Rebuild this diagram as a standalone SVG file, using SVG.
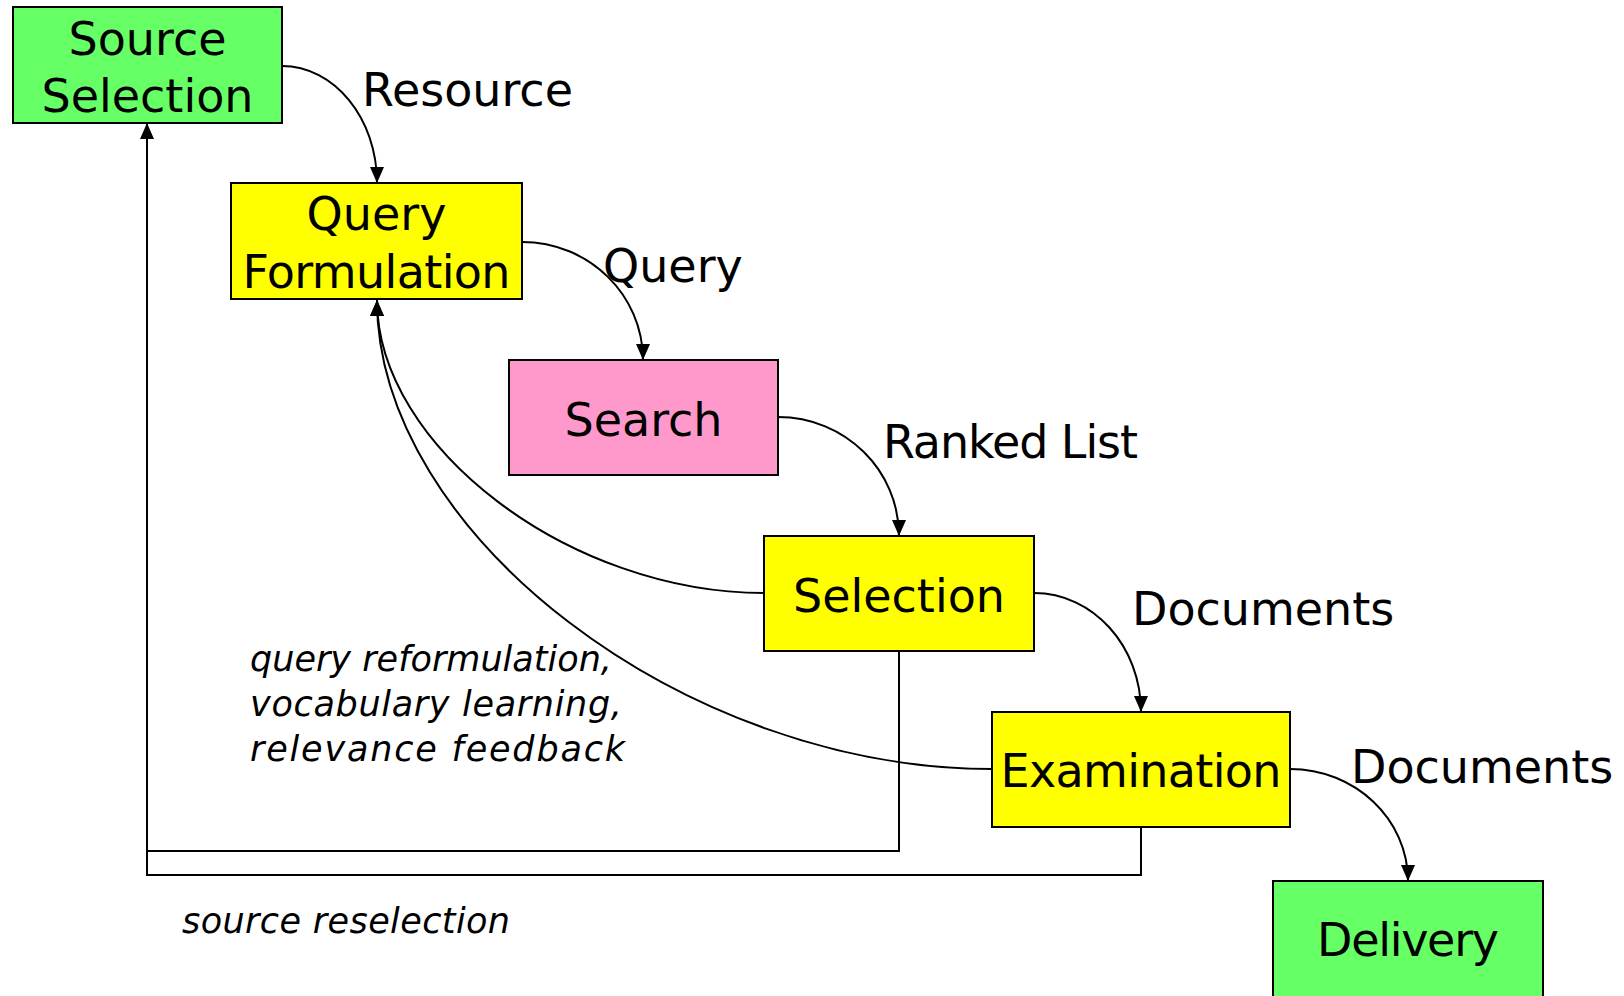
<svg xmlns="http://www.w3.org/2000/svg" width="1624" height="996" viewBox="0 0 1624 996">
<style>
.box{stroke:#000;stroke-width:2}
.green{fill:#66FF66}
.yellow{fill:#FFFF00}
.pink{fill:#FF99CC}
.lbl{font-family:"DejaVu Sans",sans-serif;font-size:46px;fill:#000}
.mid{text-anchor:middle}
.it{font-family:"DejaVu Sans",sans-serif;font-size:35px;font-style:italic;fill:#000}
.edge{fill:none;stroke:#000;stroke-width:2}
</style>
<defs>
<marker id="arr" markerUnits="userSpaceOnUse" markerWidth="16" markerHeight="14" refX="16" refY="7" orient="auto">
<path d="M0,0 L16,7 L0,14 z" fill="#000"/>
</marker>
</defs>
<rect width="1624" height="996" fill="#fff"/>
<g id="connectors">
<path class="edge" d="M282 66 C334 66 377 118 377 183" marker-end="url(#arr)"/>
<path class="edge" d="M522 242 C589 242 643 295 643 360" marker-end="url(#arr)"/>
<path class="edge" d="M778 417 C845 417 899 470 899 536" marker-end="url(#arr)"/>
<path class="edge" d="M1034 593 C1093 593 1141 646 1141 712" marker-end="url(#arr)"/>
<path class="edge" d="M1290 769 C1355 769 1408 819 1408 881" marker-end="url(#arr)"/>
<path class="edge" d="M764 593 C570 593 377 447 377 300" marker-end="url(#arr)"/>
<path class="edge" d="M992 769 C684 769 377 534 377 300" marker-end="url(#arr)"/>
<path class="edge" d="M899 651 V851 H147 V123" marker-end="url(#arr)"/>
<path class="edge" d="M1141 827 V875 H147 V851"/>
</g>
<g id="source-selection">
<rect class="box green" x="13" y="7" width="269" height="116"/>
<text class="lbl mid" x="147.5" y="55">Source</text>
<text class="lbl mid" x="147.5" y="112">Selection</text>
</g>
<g id="query-formulation">
<rect class="box yellow" x="231" y="183" width="291" height="116"/>
<text class="lbl mid" x="376.5" y="230">Query</text>
<text class="lbl mid" x="376.5" y="288" textLength="268">Formulation</text>
</g>
<g id="search">
<rect class="box pink" x="509" y="360" width="269" height="115"/>
<text class="lbl mid" x="643.5" y="436">Search</text>
</g>
<g id="selection">
<rect class="box yellow" x="764" y="536" width="270" height="115"/>
<text class="lbl mid" x="899" y="612">Selection</text>
</g>
<g id="examination">
<rect class="box yellow" x="992" y="712" width="298" height="115"/>
<text class="lbl mid" x="1141" y="787" textLength="281">Examination</text>
</g>
<g id="delivery">
<rect class="box green" x="1273" y="881" width="270" height="117"/>
<text class="lbl mid" x="1408" y="956" textLength="182">Delivery</text>
</g>
<g id="labels">
<text class="lbl" x="362" y="106">Resource</text>
<text class="lbl" x="603" y="282">Query</text>
<text class="lbl" x="883" y="458" textLength="255">Ranked List</text>
<text class="lbl" x="1132" y="625">Documents</text>
<text class="lbl" x="1351" y="783">Documents</text>
<text class="it" x="250" y="671" textLength="362">query reformulation,</text>
<text class="it" x="250" y="716" textLength="372">vocabulary learning,</text>
<text class="it" x="250" y="761" textLength="375">relevance feedback</text>
<text class="it" x="182" y="933" textLength="328">source reselection</text>
</g>
</svg>
